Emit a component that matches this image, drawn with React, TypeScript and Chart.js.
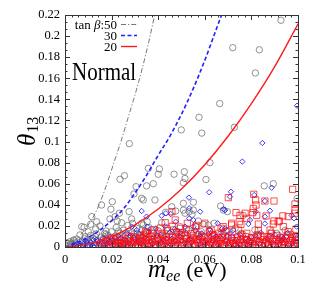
import React, { useEffect, useRef } from "react";
import { Chart, registerables } from "chart.js";

Chart.register(...registerables);

// ---- axis ranges / ticks ----
const X_MIN = 0;
const X_MAX = 0.1;
const X_STEP = 0.02;
const Y_MIN = 0;
const Y_MAX = 0.22;
const Y_STEP = 0.02;
const X_MINOR_DIV = 7;
const Y_MINOR_DIV = 3;

// ---- legend / labels ----
const LEGEND_LABELS = ["50", "30", "20"];
const PANEL_LABEL = "Normal";

// ---- bound curves (tan beta = 50, 30, 20) ----
const curve50: number[][] = [
  [0, 0], [0.003, 0.0035], [0.006, 0.01], [0.009, 0.018], [0.012, 0.028], [0.015, 0.042],
  [0.018, 0.06], [0.021, 0.08], [0.024, 0.1], [0.027, 0.122], [0.03, 0.144], [0.033, 0.168],
  [0.036, 0.195], [0.0385, 0.22],
];
const curve30: number[][] = [
  [0, 0], [0.005, 0.004], [0.01, 0.009], [0.015, 0.016], [0.02, 0.025], [0.025, 0.036],
  [0.03, 0.051], [0.035, 0.068], [0.04, 0.087], [0.045, 0.105], [0.05, 0.126], [0.055, 0.15],
  [0.06, 0.177], [0.065, 0.207], [0.0672, 0.22],
];
const curve20: number[][] = [
  [0, 0], [0.01, 0.003], [0.02, 0.01], [0.03, 0.021], [0.04, 0.036], [0.05, 0.055],
  [0.06, 0.078], [0.07, 0.105], [0.08, 0.136], [0.09, 0.171], [0.1, 0.2115],
];

// ---- scatter points ----
const points50: number[][] = [
  [0.0927, 0.215], [0.072, 0.189], [0.0834, 0.187], [0.0817, 0.165], [0.0664, 0.136], [0.0575, 0.123],
  [0.0499, 0.111], [0.0587, 0.108], [0.0727, 0.1135], [0.0276, 0.098],
  [0.0622, 0.08], [0.0405, 0.074], [0.04, 0.069], [0.0468, 0.069], [0.0512, 0.0714], [0.0379, 0.06],
  [0.0508, 0.061], [0.0605, 0.064], [0.0515, 0.065], [0.0358, 0.0746], [0.035, 0.058],
  [0.0255, 0.0676], [0.0236, 0.0642], [0.0305, 0.0572], [0.0296, 0.0503], [0.0329, 0.0462], [0.0336, 0.0446],
  [0.0386, 0.0446], [0.0203, 0.043], [0.0157, 0.0398], [0.0551, 0.0424], [0.0508, 0.0414], [0.0668, 0.0389],
  [0.0458, 0.0382], [0.0855, 0.058], [0.0894, 0.06], [0.0996, 0.046],
  [0.0275, 0.0335], [0.0197, 0.0358], [0.0233, 0.032], [0.0432, 0.0329], [0.0475, 0.0341], [0.0508, 0.035],
  [0.0533, 0.0335], [0.0551, 0.035], [0.0545, 0.031], [0.0515, 0.032], [0.0697, 0.0335], [0.0765, 0.03], [0.068, 0.035],
  [0.0115, 0.0288], [0.0215, 0.0288], [0.0193, 0.0266], [0.0286, 0.0266], [0.0224, 0.0247], [0.0243, 0.023],
  [0.0136, 0.024], [0.011, 0.0215], [0.0336, 0.0209], [0.0353, 0.024], [0.0329, 0.0225], [0.0415, 0.023],
  [0.0572, 0.0247], [0.0594, 0.0215], [0.0615, 0.0209], [0.064, 0.0225], [0.0562, 0.0193], [0.0494, 0.0193],
  [0.073, 0.0177], [0.0908, 0.013],
  [0.0082, 0.0187], [0.015, 0.0199], [0.0072, 0.0193], [0.0132, 0.0171], [0.0176, 0.0152], [0.0308, 0.0177],
  [0.01, 0.0145], [0.0064, 0.0114], [0.0086, 0.0098], [0.0036, 0.0066], [0.0021, 0.005], [0.0007, 0.004],
  [0.0015, 0.0015], [0.003, 0.0025], [0.0045, 0.004], [0.005, 0.0075], [0.006, 0.002], [0.0075, 0.0055],
  [0.008, 0.0035], [0.0095, 0.007], [0.0105, 0.0045], [0.011, 0.011], [0.012, 0.0085], [0.0125, 0.002],
  [0.0135, 0.0125], [0.014, 0.006], [0.0155, 0.0095], [0.016, 0.0035], [0.017, 0.013], [0.018, 0.0075],
  [0.0185, 0.011], [0.019, 0.002], [0.02, 0.0145], [0.021, 0.0055], [0.022, 0.0185], [0.0225, 0.009],
  [0.0235, 0.013], [0.024, 0.004], [0.025, 0.016], [0.026, 0.0105], [0.027, 0.0205], [0.0275, 0.006],
  [0.0285, 0.0135], [0.029, 0.0225], [0.03, 0.009], [0.031, 0.0125], [0.032, 0.0045], [0.033, 0.016],
  [0.034, 0.0105], [0.036, 0.0185], [0.037, 0.007], [0.038, 0.013], [0.04, 0.0155], [0.041, 0.004],
  [0.042, 0.0095], [0.044, 0.018], [0.045, 0.0125], [0.047, 0.006], [0.048, 0.0145], [0.05, 0.0105],
  [0.052, 0.0035], [0.053, 0.0155], [0.055, 0.008], [0.057, 0.012], [0.06, 0.0055], [0.062, 0.015],
  [0.065, 0.009], [0.068, 0.0125], [0.071, 0.004], [0.074, 0.01], [0.078, 0.0065], [0.083, 0.011],
  [0.087, 0.004], [0.093, 0.0085], [0.097, 0.012],
  [0.002, 0.0005], [0.007, 0.0008], [0.013, 0.0006], [0.018, 0.0004], [0.024, 0.0008], [0.03, 0.0005], [0.036, 0.0007],
  [0.0025, 0.0035], [0.004, 0.006], [0.0055, 0.001], [0.0065, 0.0045], [0.0085, 0.0078], [0.0098, 0.0025],
  [0.0115, 0.0062], [0.013, 0.0098], [0.0145, 0.0015], [0.0165, 0.0082], [0.0175, 0.0118], [0.0195, 0.0048],
  [0.0215, 0.0102], [0.023, 0.0152], [0.0248, 0.0062], [0.0265, 0.0132], [0.028, 0.0088], [0.0295, 0.0172],
  [0.0315, 0.0062], [0.0325, 0.0108], [0.0345, 0.0138], [0.0355, 0.0028], [0.0375, 0.0165], [0.0395, 0.0085],
  [0.0435, 0.0125], [0.0465, 0.0165], [0.0515, 0.0075], [0.0585, 0.0145], [0.0635, 0.0068], [0.0695, 0.0155],
  [0.0755, 0.0128], [0.0815, 0.0162], [0.0885, 0.0142], [0.0945, 0.0158],
];

const points30: number[][] = [
  [0.0996, 0.134], [0.0847, 0.0986], [0.0761, 0.081], [0.0887, 0.0562], [0.0712, 0.0524], [0.0708, 0.0477],
  [0.0619, 0.0519], [0.0532, 0.0468], [0.0812, 0.0493], [0.0858, 0.0436], [0.088, 0.0344], [0.0818, 0.0335],
  [0.0687, 0.035], [0.068, 0.0358], [0.0973, 0.03], [0.0983, 0.0272], [0.058, 0.0335], [0.0533, 0.0367],
  [0.0533, 0.0272], [0.0551, 0.0256], [0.0433, 0.032], [0.0415, 0.0297], [0.0454, 0.0313], [0.0329, 0.0341],
  [0.035, 0.0288], [0.0475, 0.024], [0.0858, 0.0288], [0.0858, 0.0222], [0.0794, 0.0256], [0.0787, 0.0218],
  [0.0655, 0.0225], [0.0687, 0.0177], [0.0673, 0.0172], [0.0722, 0.016], [0.0515, 0.0193], [0.0551, 0.0193],
  [0.0994, 0.0193], [0.0286, 0.0193], [0.0353, 0.0193], [0.0308, 0.016], [0.0265, 0.013], [0.0229, 0.0104],
  [0.0193, 0.0092], [0.0164, 0.0082], [0.0122, 0.0066], [0.0093, 0.005], [0.0587, 0.013], [0.0635, 0.0125],
  [0.0708, 0.013], [0.093, 0.0098], [0.0994, 0.0082], [0.0937, 0.0082], [0.0787, 0.0066],
  [0.004, 0.0025], [0.006, 0.0015], [0.008, 0.003], [0.01, 0.002], [0.011, 0.0045], [0.013, 0.0035],
  [0.014, 0.0055], [0.015, 0.002], [0.017, 0.006], [0.018, 0.0035], [0.02, 0.0075], [0.021, 0.0025],
  [0.022, 0.0055], [0.024, 0.0085], [0.025, 0.003], [0.026, 0.006], [0.028, 0.0105], [0.029, 0.0045],
  [0.03, 0.0075], [0.032, 0.0125], [0.033, 0.003], [0.034, 0.0085], [0.036, 0.0145], [0.037, 0.005],
  [0.038, 0.0095], [0.039, 0.0175], [0.04, 0.0025], [0.041, 0.0115], [0.042, 0.0065], [0.043, 0.0195],
  [0.044, 0.004], [0.045, 0.0135], [0.046, 0.008], [0.047, 0.017], [0.048, 0.003], [0.049, 0.0105],
  [0.05, 0.006], [0.052, 0.0135], [0.053, 0.0025], [0.054, 0.0085], [0.056, 0.0155], [0.057, 0.005],
  [0.058, 0.0105], [0.06, 0.002], [0.061, 0.0075], [0.062, 0.017], [0.063, 0.004], [0.065, 0.0095],
  [0.066, 0.0025], [0.067, 0.0135], [0.069, 0.006], [0.07, 0.0045], [0.072, 0.009], [0.073, 0.0025],
  [0.075, 0.012], [0.076, 0.0055], [0.078, 0.0025], [0.08, 0.0095], [0.081, 0.004], [0.083, 0.0065],
  [0.084, 0.0135], [0.085, 0.002], [0.087, 0.0075], [0.089, 0.0045], [0.09, 0.0115], [0.092, 0.003],
  [0.093, 0.006], [0.095, 0.0095], [0.096, 0.002], [0.098, 0.0055], [0.099, 0.0105],
  [0.012, 0.0008], [0.027, 0.0006], [0.044, 0.0009], [0.059, 0.0005], [0.074, 0.0008], [0.088, 0.0006],
  [0.0035, 0.001], [0.0055, 0.0035], [0.0075, 0.0012], [0.0095, 0.0038], [0.0115, 0.0022], [0.0135, 0.0068],
  [0.0155, 0.0042], [0.0175, 0.0015], [0.0195, 0.0048], [0.0215, 0.0088], [0.0235, 0.0018], [0.0255, 0.0072],
  [0.0275, 0.0035], [0.0295, 0.0092], [0.0315, 0.0055], [0.0335, 0.0015], [0.0355, 0.0068], [0.0375, 0.0028],
  [0.0395, 0.0112], [0.0415, 0.0042], [0.0435, 0.0078], [0.0455, 0.0022], [0.0475, 0.0058], [0.0495, 0.0138],
  [0.0515, 0.0035], [0.0535, 0.0072], [0.0555, 0.0015], [0.0575, 0.0088], [0.0595, 0.0045], [0.0615, 0.0122],
  [0.0635, 0.0062], [0.0655, 0.0018], [0.0675, 0.0078], [0.0695, 0.0105], [0.0715, 0.0038], [0.0735, 0.0068],
  [0.0755, 0.0018], [0.0775, 0.0085], [0.0795, 0.0045], [0.0815, 0.0108], [0.0835, 0.0028], [0.0855, 0.0058],
  [0.0875, 0.0102], [0.0895, 0.0022], [0.0915, 0.0078], [0.0935, 0.0042], [0.0955, 0.0132], [0.0975, 0.0035],
  [0.0995, 0.0018],
];

const points20: number[][] = [
  [0.0977, 0.0547], [0.081, 0.05], [0.0701, 0.0468], [0.0818, 0.0446], [0.0897, 0.0436], [0.0987, 0.0408],
  [0.082, 0.0398], [0.0858, 0.0436], [0.0987, 0.035], [0.0734, 0.0326], [0.0773, 0.032], [0.0806, 0.0326],
  [0.0863, 0.0294], [0.0958, 0.0288], [0.0987, 0.032], [0.0823, 0.03], [0.0751, 0.03], [0.078, 0.0272],
  [0.0897, 0.0247], [0.092, 0.0247], [0.0915, 0.024], [0.0894, 0.0218], [0.0715, 0.0225], [0.0748, 0.024],
  [0.083, 0.0218], [0.0937, 0.0193], [0.0991, 0.0168], [0.0679, 0.0193], [0.0715, 0.0209], [0.0755, 0.0215],
  [0.083, 0.0155], [0.088, 0.016], [0.0745, 0.016], [0.0958, 0.0145], [0.0459, 0.0335], [0.0473, 0.0256],
  [0.043, 0.023], [0.0495, 0.0177], [0.0619, 0.0145], [0.0658, 0.013], [0.0501, 0.0136], [0.078, 0.013],
  [0.0987, 0.0098], [0.0872, 0.0098], [0.0373, 0.013], [0.0338, 0.0114], [0.0345, 0.0145], [0.0416, 0.013],
  [0.0295, 0.0098], [0.0216, 0.0066], [0.035, 0.013],
  [0.038, 0.016], [0.041, 0.018], [0.044, 0.0155], [0.046, 0.0195], [0.048, 0.014], [0.052, 0.017],
  [0.054, 0.0125], [0.056, 0.019], [0.0627, 0.016], [0.067, 0.0177], [0.069, 0.0145], [0.0575, 0.0115],
  [0.064, 0.0105], [0.0808, 0.0365], [0.0935, 0.0295], [0.0565, 0.0205], [0.06, 0.0225], [0.0525, 0.0225],
  [0.015, 0.001], [0.017, 0.003], [0.019, 0.0015], [0.02, 0.005], [0.021, 0.0025], [0.022, 0.0008],
  [0.023, 0.004], [0.024, 0.0065], [0.025, 0.0015], [0.026, 0.003], [0.027, 0.008], [0.028, 0.0045],
  [0.029, 0.001], [0.03, 0.006], [0.031, 0.0025], [0.032, 0.009], [0.033, 0.0045], [0.034, 0.0015],
  [0.035, 0.0065], [0.036, 0.0035], [0.037, 0.0095], [0.038, 0.0012], [0.039, 0.0055], [0.04, 0.0085],
  [0.041, 0.0025], [0.042, 0.011], [0.043, 0.006], [0.044, 0.0015], [0.045, 0.0045], [0.046, 0.009],
  [0.047, 0.0025], [0.048, 0.0065], [0.049, 0.0115], [0.05, 0.001], [0.051, 0.0045], [0.052, 0.008],
  [0.053, 0.0025], [0.054, 0.006], [0.055, 0.0105], [0.056, 0.0015], [0.057, 0.0045], [0.058, 0.0075],
  [0.059, 0.003], [0.06, 0.0095], [0.061, 0.0055], [0.062, 0.0012], [0.063, 0.0035], [0.064, 0.007],
  [0.065, 0.0025], [0.066, 0.0085], [0.067, 0.005], [0.068, 0.001], [0.069, 0.0065], [0.07, 0.0105],
  [0.071, 0.003], [0.072, 0.006], [0.073, 0.0015], [0.074, 0.0085], [0.075, 0.004], [0.076, 0.0115],
  [0.077, 0.002], [0.078, 0.0065], [0.079, 0.0035], [0.08, 0.009], [0.081, 0.0012], [0.082, 0.0055],
  [0.083, 0.0025], [0.084, 0.0105], [0.085, 0.007], [0.086, 0.0035], [0.087, 0.0012], [0.088, 0.0085],
  [0.089, 0.005], [0.09, 0.0025], [0.091, 0.011], [0.092, 0.0065], [0.093, 0.0015], [0.094, 0.004],
  [0.095, 0.0085], [0.096, 0.0025], [0.097, 0.006], [0.098, 0.0012], [0.099, 0.0095], [0.0995, 0.004],
  [0.0155, 0.004], [0.0175, 0.0065], [0.0195, 0.0085], [0.0205, 0.0012], [0.0225, 0.003], [0.0235, 0.0092],
  [0.0245, 0.0035], [0.0255, 0.0055], [0.0265, 0.0012], [0.0275, 0.0105], [0.0285, 0.0025], [0.0295, 0.0045],
  [0.0305, 0.0082], [0.0315, 0.0012], [0.0325, 0.0055], [0.0335, 0.0078], [0.0345, 0.003], [0.0355, 0.0098],
  [0.0365, 0.0015], [0.0375, 0.0048], [0.0385, 0.0075], [0.0395, 0.0022], [0.0405, 0.0058], [0.0415, 0.0012],
  [0.0425, 0.0035], [0.0435, 0.0095], [0.0445, 0.0062], [0.0455, 0.0018], [0.0465, 0.0048], [0.0475, 0.0098],
  [0.0485, 0.0022], [0.0495, 0.0075], [0.0505, 0.0038], [0.0515, 0.0112], [0.0525, 0.0015], [0.0535, 0.0052],
  [0.0545, 0.0088], [0.0555, 0.0028], [0.0565, 0.0068], [0.0575, 0.0012], [0.0585, 0.0102], [0.0595, 0.0048],
  [0.0605, 0.0018], [0.0615, 0.0082], [0.0625, 0.0045], [0.0635, 0.0118], [0.0645, 0.0015], [0.0655, 0.0058],
  [0.0665, 0.0032], [0.0675, 0.0092], [0.0685, 0.0022], [0.0695, 0.0045], [0.0705, 0.0012], [0.0715, 0.0088],
  [0.0725, 0.0035], [0.0735, 0.0062], [0.0745, 0.0015], [0.0755, 0.0072], [0.0765, 0.0028], [0.0775, 0.0098],
  [0.0785, 0.0012], [0.0795, 0.0052], [0.0805, 0.0038], [0.0815, 0.0082], [0.0825, 0.0115], [0.0835, 0.0045],
  [0.0845, 0.0015], [0.0855, 0.0095], [0.0865, 0.0058], [0.0875, 0.0025], [0.0885, 0.0128], [0.0895, 0.0012],
  [0.0905, 0.0068], [0.0915, 0.0035], [0.0925, 0.0092], [0.0935, 0.0052], [0.0945, 0.0018], [0.0955, 0.0115],
  [0.0965, 0.0042], [0.0975, 0.0085], [0.0985, 0.0028], [0.0995, 0.0065],
];

const SERIF = "'Liberation Serif', 'DejaVu Serif', serif";
const COL50 = "rgba(105,105,105,0.8)";
const COL30 = "rgba(30,30,255,0.85)";
const COL20 = "rgba(255,10,10,0.72)";
const LINE50 = "#777777";
const LINE30 = "#1f1fff";
const LINE20 = "#ff1a1a";

const toXY = (arr: number[][]) => arr.map(([x, y]) => ({ x, y }));
const fmt = (v: any) => String(Math.round(Number(v) * 100) / 100);

const overlay = {
  id: "overlay",
  afterDatasetsDraw(chart: any) {
    const { ctx, chartArea: a, scales } = chart;
    const xs = scales.x;
    const ys = scales.y;
    ctx.save();
    ctx.strokeStyle = "#333";
    ctx.lineWidth = 1;
    const major = 5;
    const minor = 2.5;
    ctx.beginPath();
    const nx = Math.round((X_MAX - X_MIN) / X_STEP) * X_MINOR_DIV;
    for (let i = 0; i <= nx; i++) {
      const v = X_MIN + (i * X_STEP) / X_MINOR_DIV;
      const px = Math.round(xs.getPixelForValue(v)) + 0.5;
      const len = i % X_MINOR_DIV === 0 ? major : minor;
      ctx.moveTo(px, a.bottom);
      ctx.lineTo(px, a.bottom - len);
      ctx.moveTo(px, a.top);
      ctx.lineTo(px, a.top + len);
    }
    const ny = Math.round((Y_MAX - Y_MIN) / Y_STEP) * Y_MINOR_DIV;
    for (let i = 0; i <= ny; i++) {
      const v = Y_MIN + (i * Y_STEP) / Y_MINOR_DIV;
      const py = Math.round(ys.getPixelForValue(v)) + 0.5;
      const len = i % Y_MINOR_DIV === 0 ? major : minor;
      ctx.moveTo(a.left, py);
      ctx.lineTo(a.left + len, py);
      ctx.moveTo(a.right, py);
      ctx.lineTo(a.right - len, py);
    }
    ctx.stroke();
    ctx.strokeRect(Math.round(a.left) + 0.5, Math.round(a.top) + 0.5, Math.round(a.right - a.left), Math.round(a.bottom - a.top));
    ctx.restore();
  },
  afterDraw(chart: any) {
    const { ctx, chartArea: a } = chart;
    ctx.save();
    ctx.fillStyle = "#000";
    ctx.textBaseline = "alphabetic";
    ctx.textAlign = "left";

    // panel label
    ctx.save();
    ctx.font = `21px ${SERIF}`;
    ctx.translate(a.left + 7, 80);
    ctx.scale(1, 1.15);
    ctx.fillText(PANEL_LABEL, 0, 0);
    ctx.restore();

    // legend
    const rightX = a.left + 52;
    const lineX0 = a.left + 56;
    const lineX1 = a.left + 72;
    const rows = [29, 40, 51];
    const styles = [
      { c: LINE50, d: [5, 2, 1.2, 2], w: 1 },
      { c: LINE30, d: [4, 2.5], w: 1.6 },
      { c: LINE20, d: [], w: 1.4 },
    ];
    LEGEND_LABELS.forEach((lab, i) => {
      const y = rows[i];
      ctx.font = `13px ${SERIF}`;
      if (i === 0) {
        const p1 = "tan ";
        const p3 = ":" + lab;
        const w1 = ctx.measureText(p1).width;
        const w3 = ctx.measureText(p3).width;
        ctx.font = `italic 13px ${SERIF}`;
        const w2 = ctx.measureText("β").width;
        let x = rightX - (w1 + w2 + w3);
        ctx.font = `13px ${SERIF}`;
        ctx.fillText(p1, x, y);
        x += w1;
        ctx.font = `italic 13px ${SERIF}`;
        ctx.fillText("β", x, y);
        x += w2;
        ctx.font = `13px ${SERIF}`;
        ctx.fillText(p3, x, y);
      } else {
        ctx.textAlign = "right";
        ctx.fillText(lab, rightX, y);
        ctx.textAlign = "left";
      }
      const s = styles[i];
      ctx.save();
      ctx.strokeStyle = s.c;
      ctx.lineWidth = s.w;
      ctx.setLineDash(s.d);
      ctx.beginPath();
      ctx.moveTo(lineX0, y - 4.5);
      ctx.lineTo(lineX1, y - 4.5);
      ctx.stroke();
      ctx.restore();
    });

    // x title: m_ee (eV)
    let x = 148;
    const by = 277;
    ctx.font = `italic 25px ${SERIF}`;
    ctx.fillText("m", x, by);
    x += ctx.measureText("m").width;
    ctx.font = `italic 16px ${SERIF}`;
    ctx.fillText("ee", x, by + 4);
    x += ctx.measureText("ee").width + 6;
    ctx.font = `22px ${SERIF}`;
    ctx.fillText("(eV)", x, by);

    // y title: theta_13 rotated
    ctx.save();
    ctx.translate(35, 146);
    ctx.rotate(-Math.PI / 2);
    ctx.font = `italic 25px ${SERIF}`;
    ctx.fillText("θ", 0, 0);
    const tw = ctx.measureText("θ").width;
    ctx.font = `16px ${SERIF}`;
    ctx.fillText("13", tw + 1, 3);
    ctx.restore();

    ctx.restore();
  },
};

export default function App() {
  const ref = useRef<HTMLCanvasElement | null>(null);
  useEffect(() => {
    if (!ref.current) return;
    const lineDs = (pts: number[][], color: string, dash: number[], width: number) => ({
      type: "line" as const,
      data: toXY(pts),
      showLine: true,
      borderColor: color,
      borderWidth: width,
      borderDash: dash,
      pointRadius: 0,
      fill: false,
      cubicInterpolationMode: "monotone" as const,
      clip: 0,
      order: 0,
    });
    const chart = new Chart(ref.current, {
      type: "scatter",
      data: {
        datasets: [
          lineDs(curve50, LINE50, [5, 2, 1.2, 2], 1),
          lineDs(curve30, LINE30, [4, 2.5], 1.6),
          lineDs(curve20, LINE20, [], 1.4),
          {
            data: toXY(points20),
            pointStyle: "rect",
            pointRadius: 4.4,
            borderColor: COL20,
            backgroundColor: "rgba(0,0,0,0)",
            borderWidth: 1,
            clip: 0,
            order: 1,
          },
          {
            data: toXY(points30),
            pointStyle: "rectRot",
            pointRadius: 2.7,
            borderColor: COL30,
            backgroundColor: "rgba(0,0,0,0)",
            borderWidth: 1,
            clip: 0,
            order: 2,
          },
          {
            data: toXY(points50),
            pointStyle: "circle",
            pointRadius: 3.2,
            borderColor: COL50,
            backgroundColor: "rgba(0,0,0,0)",
            borderWidth: 0.9,
            clip: 0,
            order: 3,
          },
        ] as any,
      },
      options: {
        responsive: false,
        animation: false,
        devicePixelRatio: 1,
        layout: { padding: { top: 15, right: 16, left: 0, bottom: 0 } },
        plugins: { legend: { display: false }, tooltip: { enabled: false } },
        scales: {
          x: {
            type: "linear",
            min: X_MIN,
            max: X_MAX,
            grid: { display: false, drawTicks: false },
            border: { display: false },
            ticks: {
              stepSize: X_STEP,
              padding: 5,
              maxRotation: 0,
              autoSkip: false,
              color: "#000",
              font: { family: SERIF, size: 12.5 },
              callback: fmt,
            },
            afterFit: (s: any) => {
              s.height = 48;
            },
          },
          y: {
            type: "linear",
            min: Y_MIN,
            max: Y_MAX,
            grid: { display: false, drawTicks: false },
            border: { display: false },
            ticks: {
              stepSize: Y_STEP,
              padding: 5,
              autoSkip: false,
              color: "#000",
              font: { family: SERIF, size: 12.5 },
              callback: fmt,
            },
            afterFit: (s: any) => {
              s.width = 65;
            },
          },
        },
      } as any,
      plugins: [overlay],
    });
    return () => chart.destroy();
  }, []);
  return (
    <div style={{ position: "absolute", left: 0, top: 0, width: 314, height: 295, background: "#fff" }}>
      <canvas ref={ref} width={314} height={295} style={{ display: "block", width: 314, height: 295 }} />
    </div>
  );
}
